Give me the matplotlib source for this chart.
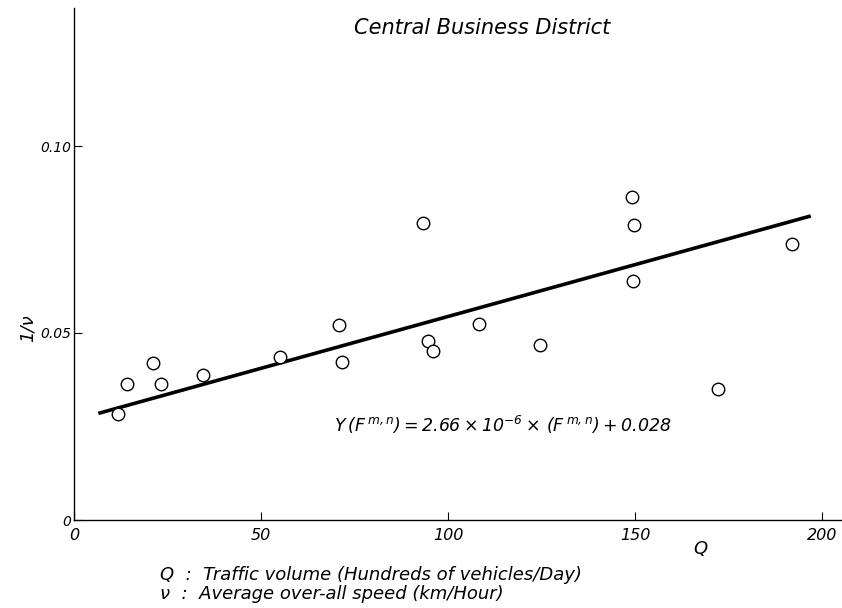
import matplotlib
matplotlib.use("Agg")
import matplotlib.pyplot as plt

# Data
q_vals = [11.7, 14.3, 21.2, 23.2, 34.4, 55.1, 70.9, 71.7, 93.2, 94.6, 96.0,
          108.4, 124.5, 149.3, 149.7, 149.5, 172.3, 192.0]
inv_v = [0.0283, 0.0364, 0.0419, 0.0364, 0.0389, 0.0436, 0.0521, 0.0422, 0.0793,
         0.0479, 0.0452, 0.0525, 0.0468, 0.0863, 0.0788, 0.0639, 0.0350, 0.0737]
line_q = [6.5, 197.0]
line_y = [0.0285, 0.0813]

x_ticks = [0, 50, 100, 150, 200]
x_ticklabels = ["0", "50", "100", "150", "200"]
y_ticks = [0, 0.05, 0.10]
y_ticklabels = ["0", "0.05", "0.10"]

title = "Central Business District"
equation = r"$Y\,(F^{\,m,n})=2.66\times10^{-6}\times\,(F^{\,m,n})+0.028$"
note_q = "Q  :  Traffic volume (Hundreds of vehicles/Day)"
note_v = "ν  :  Average over-all speed (km/Hour)"

plt.rcParams['font.family'] = ['DejaVu Sans']
plt.rcParams['mathtext.fontset'] = 'custom'
plt.rcParams['mathtext.rm'] = 'DejaVu Sans:italic'
plt.rcParams['mathtext.it'] = 'DejaVu Sans:italic'

fig = plt.figure(figsize=(8.42, 6.08), dpi=100)
ax = fig.add_axes([74/842, (608-520)/608, 768/842, 512/608])

ax.plot(line_q, line_y, color='black', lw=2.6, solid_capstyle='butt', zorder=2)
ax.plot(q_vals, inv_v, linestyle='none', marker='o', markersize=9,
        markerfacecolor='white', markeredgecolor='black', markeredgewidth=1.0, zorder=3)

ax.set_xlim(0, 768/3.74)
ax.set_ylim(0, 512/3740)

for s in ['top', 'right']:
    ax.spines[s].set_visible(False)
for s in ['left', 'bottom']:
    ax.spines[s].set_linewidth(1.0)

ax.set_xticks(x_ticks)
ax.set_xticklabels(x_ticklabels, fontstyle='italic', fontsize=11.5)
ax.set_yticks(y_ticks)
ax.set_yticklabels(y_ticklabels, fontstyle='italic', fontsize=10)
ax.tick_params(axis='both', direction='in', length=6, width=0.8)
ax.tick_params(axis='x', pad=6)
ax.tick_params(axis='y', pad=2)

fig.text(482/842, 1 - 28/608, title, fontstyle='italic', fontsize=15,
         ha='center', va='center')
fig.text(503/842, 1 - 425/608, equation, fontsize=12.5, ha='center', va='center')
fig.text(700/842, 1 - 549/608, "Q", fontstyle='italic', fontsize=13,
         ha='center', va='center')
fig.text(28/842, 1 - 328/608, "1/ν", fontstyle='italic', fontsize=13,
         ha='center', va='center', rotation=90)
fig.text(160/842, 1 - 575/608, note_q, fontstyle='italic', fontsize=13,
         ha='left', va='center')
fig.text(160/842, 1 - 594/608, note_v, fontstyle='italic', fontsize=13,
         ha='left', va='center')

fig.savefig("out.png", dpi=100)
